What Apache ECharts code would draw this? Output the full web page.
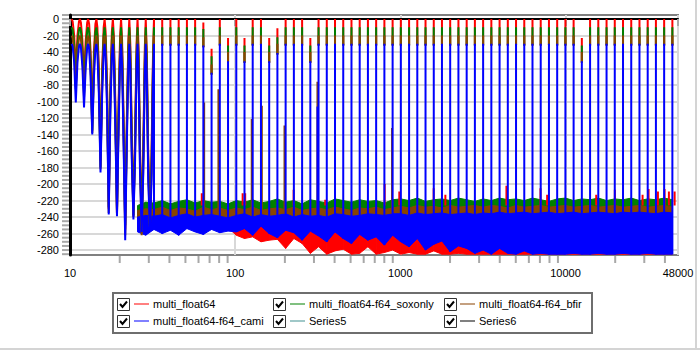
<!DOCTYPE html>
<html><head><meta charset="utf-8">
<script src="https://cdn.jsdelivr.net/npm/echarts@6/dist/echarts.min.js"></script>
<style>html,body{margin:0;padding:0;background:#fff}#c{width:700px;height:350px}</style>
</head><body><div id="c"></div>
<script>
// ---------------- data ----------------
const spikeFreq = [10.24,11.48,12.88,14.45,16.20,18.17,20.38,22.86,25.64,28.75,
  32.25,36.17,40.56,45.50,51.04,57.23,64.18,71.98,80.74,90.55,
  101.6,113.9,127.7,143.3,160.7,180.2,202.1,226.7,254.3,285.2,
  319.8,358.7,402.3,451.2,506.1,567.5,636.5,713.9,800.8,898.1,
  1007,1130,1267,1421,1594,1787,2004,2248,2522,2828,
  3172,3557,3990,4475,5019,5629,6313,7080,7941,8907,
  9989,11200,12560,14090,15800,17730,19880,22300,25010,28050,
  31460,35280,39570,44380];

// five points inside each of the first ten (wide) lobes
const lobeFreq = [10.38,10.60,10.84,11.10,11.33, 11.64,11.89,12.16,12.45,12.71,
  13.06,13.33,13.64,13.96,14.25, 14.65,14.95,15.30,15.66,15.99,
  16.43,16.77,17.16,17.56,17.93, 18.43,18.81,19.25,19.70,20.11,
  20.67,21.10,21.59,22.09,22.56, 23.18,23.66,24.21,24.78,25.30,
  26.00,26.54,27.16,27.79,28.38, 29.16,29.77,30.46,31.17,31.83];

const peakRed = [0,0,0,0,0,0,0,0,0,0, 0,0,0,0,0,0,-4,-36,0,-23, 0,-23,0,0,-23,-11,0,0,0,-23,
  0,0,0,0,0,0,0,0,0,0, 0,0,0,0,0,0,0,0,0,0, 0,0,0,0,0,0,0,0,0,0, 0,0,-23,0,0,0,0,0,0,0, 0,0,0,0];
const peakGreen = [-10,-10,-10,-10,-10,-10,-10,-10,-10,-10, -10,-10,-10,-10,-10,-10,-12,-45,-10,-32,
  -10,-32,-10,-10,-32,-22,-10,-10,-10,-32, -10,-10,-10,-10,-10,-10,-10,-10,-10,-10,
  -10,-10,-10,-10,-10,-10,-10,-10,-10,-10, -10,-10,-10,-10,-10,-10,-10,-10,-10,-10,
  -10,-10,-32,-10,-10,-10,-10,-10,-10,-10, -10,-10,-10,-10];
const peakBrown = [-20,-20,-20,-20,-20,-20,-20,-20,-20,-20, -20,-20,-20,-20,-20,-20,-22,-55,-20,-40,
  -20,-40,-20,-20,-40,-30,-20,-20,-20,-40, -20,-20,-20,-20,-20,-20,-20,-20,-20,-20,
  -20,-20,-20,-20,-20,-20,-20,-20,-20,-20, -20,-20,-20,-20,-20,-20,-20,-20,-20,-20,
  -20,-20,-40,-20,-20,-20,-20,-20,-20,-20, -20,-20,-20,-20];
const peakBlue = [-30,-30,-30,-30,-30,-30,-30,-30,-30,-30, -30,-30,-30,-30,-30,-30,-32,-65,-30,-51,
  -30,-51,-30,-30,-51,-41,-30,-30,-30,-51, -30,-30,-30,-30,-30,-30,-30,-30,-30,-30,
  -30,-30,-30,-30,-30,-30,-30,-30,-30,-30, -30,-30,-30,-30,-30,-30,-30,-30,-30,-30,
  -30,-30,-51,-30,-30,-30,-30,-30,-30,-30, -30,-30,-30,-30];

const lobeRed = [-3,-20,-62,-20,-3, -4,-26,-72,-26,-4, -6,-40,-122,-40,-6, -10,-60,-172,-60,-10,
  -15,-80,-230,-80,-15, -20,-100,-235,-100,-20, -25,-120,-255,-120,-25, -30,-140,-238,-140,-30,
  -35,-155,-250,-155,-35, -40,-165,-248,-165,-40];
const lobeGreen = [-13,-31,-82,-31,-13, -14,-37,-90,-37,-14, -16,-50,-135,-50,-16, -20,-70,-180,-70,-20,
  -25,-90,-228,-90,-25, -30,-110,-232,-110,-30, -35,-130,-250,-130,-35, -40,-150,-238,-150,-40,
  -45,-165,-252,-165,-45, -50,-175,-250,-175,-50];
const lobeBrown = [-23,-41,-85,-41,-23, -24,-47,-95,-47,-24, -26,-60,-138,-60,-26, -30,-80,-182,-80,-30,
  -35,-100,-235,-100,-35, -40,-120,-236,-120,-40, -45,-140,-262,-140,-45, -50,-160,-240,-160,-50,
  -55,-175,-262,-175,-55, -60,-185,-252,-185,-60];
const lobeBlue = [-33,-52,-101,-52,-33, -34,-58,-107,-58,-34, -36,-70,-140,-70,-36, -40,-90,-186,-90,-40,
  -45,-110,-237,-110,-45, -50,-130,-239,-130,-50, -55,-150,-268,-150,-55, -60,-170,-243,-170,-60,
  -65,-185,-258,-185,-65, -70,-195,-256,-195,-70];

// noise floor envelope, one value per spike from spikeFreq[8] on
const hiGreen = [-226,-222, -223,-220,-224,-221,-219,-223,-220,-222,-221,-224,
  -220,-222,-219,-223,-221,-218,-222,-220,-224,-219, -221,-223,-218,-220,-222,-219,-221,-220,-223,-219,
  -218,-220,-217,-221,-219,-218,-220,-217,-219,-221, -218,-220,-217,-219,-218,-220,-217,-219,-221,-218,
  -217,-220,-218,-219,-217,-220,-218,-219,-217,-220, -218,-219,-217,-219];
const loGreen = [-238,-236, -235,-237,-234,-236,-238,-235,-237,-234,-236,-235,
  -237,-234,-236,-238,-235,-236,-234,-237,-235,-236, -234,-236,-235,-237,-234,-236,-235,-234,-236,-235,
  -233,-235,-234,-236,-233,-235,-234,-233,-235,-234, -233,-235,-234,-233,-235,-234,-233,-235,-234,-233,
  -234,-233,-235,-234,-233,-235,-234,-233,-234,-235, -233,-234,-235,-233];
const hiBrown = [-232,-230, -231,-228,-232,-229,-230,-233,-228,-231,-229,-232,
  -229,-231,-228,-232,-230,-229,-231,-228,-232,-230, -229,-231,-228,-230,-232,-229,-230,-228,-231,-229,
  -227,-229,-226,-228,-227,-229,-226,-228,-227,-226, -228,-226,-227,-229,-226,-228,-227,-226,-228,-227,
  -226,-228,-227,-226,-228,-227,-226,-228,-227,-226, -228,-227,-226,-228];
const loBrown = [-248,-246, -245,-247,-244,-246,-248,-245,-247,-244,-246,-245,
  -247,-244,-246,-245,-243,-246,-244,-247,-245,-246, -244,-246,-245,-243,-244,-246,-245,-244,-243,-245,
  -243,-244,-242,-245,-243,-244,-242,-243,-244,-242, -243,-242,-244,-243,-242,-243,-244,-242,-243,-242,
  -242,-243,-244,-242,-243,-242,-244,-243,-242,-243, -242,-243,-242,-244];
const hiBlue = [-240,-238, -239,-237,-241,-238,-236,-240,-238,-237,-239,-241,
  -238,-236,-240,-237,-239,-238,-236,-240,-237,-239, -238,-240,-236,-237,-239,-238,-236,-237,-238,-236,
  -236,-238,-235,-237,-236,-235,-237,-236,-235,-237, -235,-236,-234,-236,-235,-234,-236,-235,-234,-236,
  -235,-234,-236,-235,-234,-235,-236,-234,-235,-234, -235,-236,-234,-235];
const loBlue = [-258,-262, -255,-260,-256,-262,-254,-258,-261,-255,-259,-257,
  -258,-254,-262,-251,-260,-265,-256,-259,-268,-257, -263,-270,-258,-266,-272,-261,-268,-264,-274,-262,
  -270,-276,-266,-280,-273,-269,-282,-275,-278,-284, -280,-285,-278,-284,-285,-281,-285,-284,-285,-285,
  -285,-284,-285,-285,-284,-285,-285,-284,-285,-285, -284,-285,-285,-285];
const hiRed = [-233,-231, -232,-230,-233,-231,-232,-230,-233,-231,-232,-230,
  -231,-233,-230,-232,-231,-233,-230,-232,-231,-230, -232,-230,-231,-233,-230,-232,-231,-230,-232,-231,
  -230,-232,-231,-230,-232,-231,-230,-232,-231,-230, -231,-230,-232,-231,-230,-232,-231,-230,-232,-231,
  -230,-232,-231,-230,-232,-231,-230,-232,-231,-230, -231,-230,-232,-231];
const loRed = [-254,-258, -252,-256,-252,-258,-250,-254,-257,-251,-255,-253,
  -262,-266,-264,-270,-268,-267,-278,-266,-272,-284, -276,-285,-281,-279,-285,-284,-276,-285,-283,-280,
  -285,-283,-285,-285,-281,-285,-285,-284,-285,-285, -285,-285,-285,-285,-285,-285,-285,-285,-285,-285,
  -285,-285,-285,-285,-285,-285,-285,-285,-285,-285, -285,-285,-285,-285];

// isolated spurs (frequency, top level)
const redSpurFreq = [62.8,111,115,226,351,804,986,1592,1874,4390,7057,7745,15350,19900,29290,31850,36280,39810,42280,45790];
const redSpurTop = [-211,-211,-211,-207,-219,-200,-209,-205,-213,-202,-205,-213,-213,-207,-213,-206,-209,-206,-209,-209];
const brownSpurFreq = [64.9,79.2,126,145,199,315,891];
const brownSpurTop = [-101,-85,-121,-105,-129,-76,-132];
const blueSpurFreq = [315];
const blueSpurTop = [-106];

// axis ticks / labels
const yLabelValues = [-280,-260,-240,-220,-200,-180,-160,-140,-120,-100,-80,-60,-40,-20,0];
const yMinorTicks = [-285,-280,-275,-270,-265,-260,-255,-250,-245,-240,-235,-230,-225,-220,-215,-210,-205,-200,
  -195,-190,-185,-180,-175,-170,-165,-160,-155,-150,-145,-140,-135,-130,-125,-120,-115,-110,-105,-100,
  -95,-90,-85,-80,-75,-70,-65,-60,-55,-50,-45,-40,-35,-30,-25,-20,-15,-10,-5,0,5];
const xMinorTicks = [20,30,40,50,60,70,80,90,200,300,400,500,600,700,800,900,
  2000,3000,4000,5000,6000,7000,8000,9000,20000,30000,40000];

const seriesNames = ['multi_float64','multi_float64-f64_soxonly','multi_float64-f64_bfir','multi_float64-f64_cami','Series5','Series6'];

// ---------------- building the chart ----------------
const BAND_START = 8;   // first spike index that sits on the noise floor
const LOBE_GAPS = 10;   // number of wide lobes drawn point by point
const LOBE_PTS = 5;     // points per lobe gap
const FONT = 'Liberation Sans, Arial, sans-serif';

// bottom(k): where the vertical stroke of spike k ends
function spikeLine(p, lb, bottom) {
  const d = [];
  for (let k = 0; k < LOBE_GAPS; k++) {
    d.push([spikeFreq[k], p[k]]);
    for (let j = 0; j < LOBE_PTS; j++) d.push([lobeFreq[LOBE_PTS * k + j], lb[LOBE_PTS * k + j]]);
  }
  d.push([spikeFreq[LOBE_GAPS], p[LOBE_GAPS]]);
  d.push([spikeFreq[LOBE_GAPS], bottom(LOBE_GAPS)]);
  d.push([spikeFreq[LOBE_GAPS], '-']);
  for (let k = LOBE_GAPS + 1; k < spikeFreq.length; k++) {
    d.push([spikeFreq[k], bottom(k)], [spikeFreq[k], p[k]], [spikeFreq[k], '-']);
  }
  return d;
}
function spurLine(freqs, tops, base) {
  const d = [];
  freqs.forEach((f, i) => d.push([f, base], [f, tops[i]], [f, '-']));
  return d;
}
function bandSeries(name, color, hi, lo) {
  const fr = spikeFreq.slice(BAND_START);
  return {
    name, type: 'custom', silent: true, clip: true,
    data: fr.map((f, i) => [f, hi[i], lo[i]]),
    encode: {x: 0, y: [1, 2]},
    renderItem: (params, api) => {
      const i = params.dataIndex;
      if (i >= fr.length - 1) return null;
      const pts = [api.coord([fr[i], hi[i]]), api.coord([fr[i + 1], hi[i + 1]]),
                   api.coord([fr[i + 1], lo[i + 1]]), api.coord([fr[i], lo[i]])];
      return {type: 'polygon', shape: {points: pts}, style: {fill: color, stroke: color, lineWidth: 1}};
    }
  };
}
function lineSeries(name, color, data, w) {
  return {name, type: 'line', symbol: 'none', showSymbol: false, color, lineStyle: {width: w, color}, data};
}

const defs = [
  {name: seriesNames[0], color: '#ff0000', p: peakRed, lb: lobeRed, hi: hiRed, lo: loRed},
  {name: seriesNames[1], color: '#008000', p: peakGreen, lb: lobeGreen, hi: hiGreen, lo: loGreen},
  {name: seriesNames[2], color: '#884400', p: peakBrown, lb: lobeBrown, hi: hiBrown, lo: loBrown},
  {name: seriesNames[3], color: '#0000ff', p: peakBlue, lb: lobeBlue, hi: hiBlue, lo: loBlue}
];
const series = [];
defs.forEach((s, si) => {
  const isTop = si === defs.length - 1;
  // hidden parts of the lower series stop where the (top) blue spike takes over
  const bottom = isTop ? (k => s.lo[k - BAND_START]) : (k => peakBlue[k] - 2);
  series.push(bandSeries(s.name, s.color, s.hi, s.lo));
  series.push(lineSeries(s.name, s.color, spikeLine(s.p, s.lb, bottom), 2));
  if (si === 0) series.push(lineSeries(s.name, s.color, spurLine(redSpurFreq, redSpurTop, -226), 2));
  if (si === 2) series.push(lineSeries(s.name, s.color, spurLine(brownSpurFreq, brownSpurTop, -236), 2));
  if (si === 3) series.push(lineSeries(s.name, s.color, spurLine(blueSpurFreq, blueSpurTop, -250), 2));
});
series.push(lineSeries('Series5', '#5f9ea0', [], 2));
series.push(lineSeries('Series6', '#404040', [], 2));

const legendColors = {'multi_float64': '#ff8080', 'multi_float64-f64_soxonly': '#80c080',
  'multi_float64-f64_bfir': '#c4a080', 'multi_float64-f64_cami': '#8080ff', 'Series5': '#a0c8c8', 'Series6': '#808080'};
function legendCol(left, names) {
  return {left, top: 295.5, orient: 'vertical', padding: 0, itemGap: 0, itemWidth: 15, itemHeight: 2,
    icon: 'rect', selectedMode: false,
    textStyle: {fontFamily: FONT, fontSize: 11, color: '#000', lineHeight: 17, padding: [0, 0, 0, -1]},
    data: names.map(n => ({name: n, icon: 'rect', itemStyle: {color: legendColors[n]}}))};
}

const graphics = [
  {type: 'rect', shape: {x: 113, y: 293, width: 479, height: 40}, style: {fill: 'none', stroke: '#6e6e6e', lineWidth: 2}, silent: true},
  {type: 'line', shape: {x1: 696, y1: 0, x2: 696, y2: 350}, style: {stroke: '#d4d4d4', lineWidth: 2}, silent: true},
  {type: 'line', shape: {x1: 0, y1: 349, x2: 700, y2: 349}, style: {stroke: '#d4d4d4', lineWidth: 2}, silent: true}
];
[[117.5, 298.5], [117.5, 315.5], [273.5, 298.5], [273.5, 315.5], [444.5, 298.5], [444.5, 315.5]].forEach(([x, y]) => {
  graphics.push({type: 'rect', shape: {x, y, width: 12, height: 12}, style: {fill: '#fff', stroke: '#333', lineWidth: 1}, silent: true});
  graphics.push({type: 'polyline', shape: {points: [[x + 2.5, y + 5.5], [x + 5, y + 8.5], [x + 9.5, y + 3]]}, style: {stroke: '#000', lineWidth: 2, fill: 'none'}, silent: true});
});

const TICK_COLOR = '#a8a8a8';
const option = {
  animation: false,
  backgroundColor: '#fff',
  grid: {left: 70, right: 22, top: 15, bottom: 95, show: true, borderColor: '#808080', borderWidth: 2, backgroundColor: 'transparent'},
  xAxis: {type: 'log', logBase: 10, min: 10, max: 48000,
     axisLine: {show: true, lineStyle: {color: '#000', width: 2}},
     axisTick: {show: true, length: 7, lineStyle: {color: TICK_COLOR, width: 2}},
     axisLabel: {color: '#000', fontFamily: FONT, fontSize: 11, margin: 12, formatter: v => String(Math.round(v))},
     splitLine: {show: true, lineStyle: {color: '#d8d8d8', width: 2}}},
  yAxis: {type: 'value', min: -286, max: 5,
     axisLine: {show: true, lineStyle: {color: '#000', width: 3}},
     axisTick: {show: false, customValues: yLabelValues},
     axisLabel: {color: '#000', fontFamily: FONT, fontSize: 11, margin: 11, customValues: yLabelValues},
     splitLine: {show: true, lineStyle: {color: '#d8d8d8', width: 2}}},
  legend: [
    legendCol(134, [seriesNames[0], seriesNames[3]]),
    legendCol(290, [seriesNames[1], seriesNames[4]]),
    legendCol(460, [seriesNames[2], seriesNames[5]])
  ],
  series
};
const chart = echarts.init(document.getElementById('c'), null, {renderer: 'svg', width: 700, height: 350});
chart.setOption(option);

// minor ticks placed through the chart's own axis scales
const xAxisY = chart.convertToPixel({yAxisIndex: 0}, -286);
xMinorTicks.forEach(v => {
  const x = chart.convertToPixel({xAxisIndex: 0}, v);
  graphics.push({type: 'line', silent: true, shape: {x1: x, y1: xAxisY + 1, x2: x, y2: xAxisY + 8}, style: {stroke: TICK_COLOR, lineWidth: 2}});
});
const yAxisX = chart.convertToPixel({xAxisIndex: 0}, 10);
yMinorTicks.forEach(v => {
  const y = chart.convertToPixel({yAxisIndex: 0}, v);
  graphics.push({type: 'line', silent: true, shape: {x1: yAxisX - 8, y1: y, x2: yAxisX - 1, y2: y}, style: {stroke: TICK_COLOR, lineWidth: 2}});
});
chart.setOption({graphic: graphics});
</script></body></html>
